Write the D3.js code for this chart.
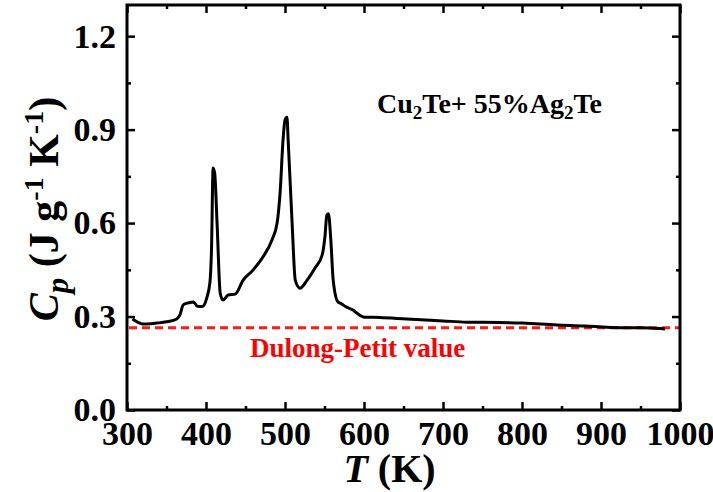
<!DOCTYPE html>
<html><head><meta charset="utf-8">
<script src="https://cdn.jsdelivr.net/npm/d3@7"></script>
</head>
<body style="margin:0;padding:0;background:#fff"><svg id="c" width="713" height="492" font-family="Liberation Serif" font-weight="bold"></svg>
<script>
// Data
const temperature = [307,314,320,330,338,350,363,367,371,376,380,384,389,395,401,405,407,409,411,414,418,421.5,428,437,447,459.5,472,483.5,490,494,497.5,500,502.5,504,509,513,519,528,538,547,550.5,553,555,558,561,567,570,578,586,589,601,620,654,700,730,770,801,844,880,908,940,962,981];
const heatCapacity = [0.292,0.281,0.276,0.277,0.279,0.283,0.292,0.305,0.337,0.343,0.345,0.347,0.333,0.332,0.36,0.41,0.52,0.777,0.76,0.6,0.375,0.353,0.369,0.372,0.417,0.449,0.491,0.546,0.6,0.706,0.866,0.93,0.94,0.866,0.6,0.417,0.391,0.417,0.456,0.497,0.555,0.626,0.63,0.546,0.417,0.347,0.343,0.33,0.321,0.315,0.298,0.297,0.292,0.286,0.282,0.281,0.279,0.273,0.27,0.266,0.264,0.263,0.26];
const dulongPetit = 0.264;
const xTicks = [300,400,500,600,700,800,900,1000];
const yTicks = [0.0,0.3,0.6,0.9,1.2];
const xMinor = [350,450,550,650,750,850,950];
const yMinor = [0.15,0.45,0.75,1.05];

const FONT = "Liberation Serif";
const svg = d3.select("#c");
const L=127,R=680,T=5,B=410;
const x = d3.scaleLinear().domain([300,1000]).range([L,R]);
const y = d3.scaleLinear().domain([0,1.3]).range([B,T]);

// Dulong-Petit line
svg.append("line").attr("x1",x(300)+2).attr("x2",x(1000)).attr("y1",y(dulongPetit)).attr("y2",y(dulongPetit))
  .attr("stroke","#ff1a1a").attr("stroke-width",3).attr("stroke-dasharray","8,5");

// Curve
const line = d3.line().x((d,i)=>x(temperature[i])).y(d=>y(d)).curve(d3.curveMonotoneX);
svg.append("path").attr("d",line(heatCapacity)).attr("fill","none").attr("stroke","#000").attr("stroke-width",3).attr("stroke-linejoin","round");

// Axes
const sw=3;
const gB = svg.append("g").attr("transform",`translate(0,${B})`)
  .call(d3.axisBottom(x).tickValues(xTicks).tickSize(-8).tickPadding(11).tickFormat(d3.format("d")));
const gBm = svg.append("g").attr("transform",`translate(0,${B})`)
  .call(d3.axisBottom(x).tickValues(xMinor).tickSize(-4).tickFormat(""));
const gL = svg.append("g").attr("transform",`translate(${L},0)`)
  .call(d3.axisLeft(y).tickValues(yTicks).tickSize(-8).tickPadding(11).tickFormat(d3.format(".1f")));
const gLm = svg.append("g").attr("transform",`translate(${L},0)`)
  .call(d3.axisLeft(y).tickValues(yMinor).tickSize(-4).tickFormat(""));
const gT = svg.append("g").attr("transform",`translate(0,${T})`)
  .call(d3.axisTop(x).tickValues(xTicks).tickSize(-8).tickFormat(""));
const gTm = svg.append("g").attr("transform",`translate(0,${T})`)
  .call(d3.axisTop(x).tickValues(xMinor).tickSize(-4).tickFormat(""));
const gR = svg.append("g").attr("transform",`translate(${R},0)`)
  .call(d3.axisRight(y).tickValues(yTicks).tickSize(-8).tickFormat(""));
const gRm = svg.append("g").attr("transform",`translate(${R},0)`)
  .call(d3.axisRight(y).tickValues(yMinor).tickSize(-4).tickFormat(""));
[gB,gBm,gL,gLm,gT,gTm,gR,gRm].forEach(g=>{
  g.attr("font-family",FONT).attr("font-size",34).attr("font-weight","bold");
  g.selectAll(".domain").remove();
  g.selectAll("line").attr("stroke","#000").attr("stroke-width",2.5);
  g.selectAll("text").attr("fill","#000").attr("font-family",FONT).attr("font-weight","bold").attr("font-size",34);
});
gB.selectAll("text").attr("dy","0.71em");
svg.append("rect").attr("x",L).attr("y",T).attr("width",R-L).attr("height",B-T)
  .attr("fill","none").attr("stroke","#000").attr("stroke-width",sw);

// Axis titles
const xt = svg.append("text").attr("x",(L+R)/2-14).attr("y",482).attr("text-anchor","middle")
  .attr("font-family",FONT).attr("font-weight","bold").attr("font-size",40);
xt.append("tspan").attr("font-style","italic").text("T");
xt.append("tspan").text(" (K)");

const yt = svg.append("text").attr("transform","translate(58,209) rotate(-90)").attr("text-anchor","middle")
  .attr("font-family",FONT).attr("font-weight","bold").attr("font-size",42);
yt.append("tspan").attr("font-style","italic").text("C");
yt.append("tspan").attr("font-style","italic").attr("font-size",31).attr("dy","10").text("p");
yt.append("tspan").attr("dy","-10").text(" (J g");
yt.append("tspan").attr("font-size",28).attr("dy","-15").text("-1");
yt.append("tspan").attr("dy","15").text(" K");
yt.append("tspan").attr("font-size",28).attr("dy","-15").text("-1");
yt.append("tspan").attr("dy","15").text(")");

// Annotation
const an = svg.append("text").attr("x",377).attr("y",113)
  .attr("font-family",FONT).attr("font-weight","bold").attr("font-size",28);
an.append("tspan").text("Cu");
an.append("tspan").attr("font-size",19).attr("dy","6").text("2");
an.append("tspan").attr("dy","-6").text("Te+ 55%Ag");
an.append("tspan").attr("font-size",19).attr("dy","6").text("2");
an.append("tspan").attr("dy","-6").text("Te");

svg.append("text").attr("x",250).attr("y",357).attr("fill","#ff0000")
  .attr("font-family",FONT).attr("font-weight","bold").attr("font-size",27).text("Dulong-Petit value");
</script></body></html>
